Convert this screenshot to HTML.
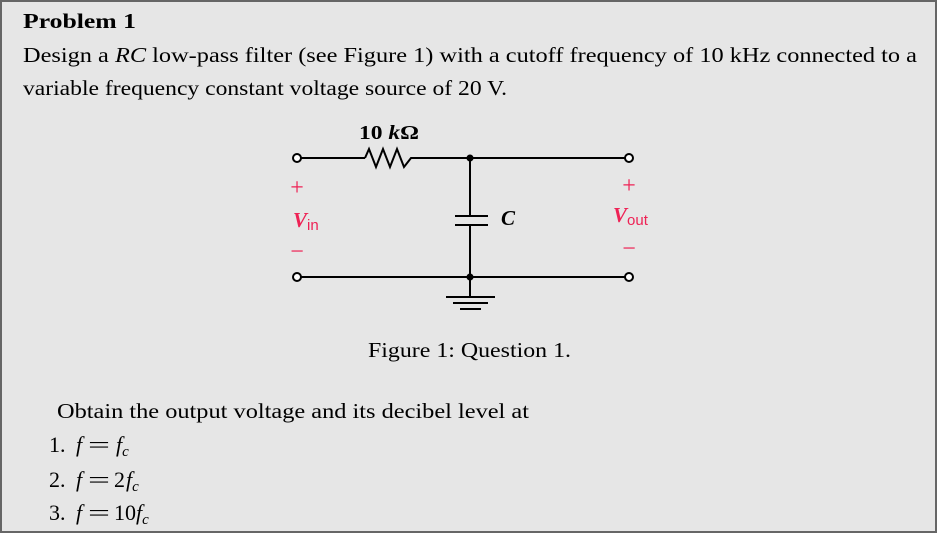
<!DOCTYPE html>
<html><head><meta charset="utf-8"><style>
html,body{margin:0;padding:0;background:#fff}
svg{display:block}
text{font-family:"Liberation Serif",serif;fill:#000}
.r{fill:#ee2255}
</style></head><body>
<svg width="938" height="534" viewBox="0 0 938 534" xmlns="http://www.w3.org/2000/svg">
<rect x="1" y="1" width="935" height="531" fill="#e6e6e6" stroke="#666" stroke-width="2"/>
<text x="23" y="28" font-size="21" font-weight="bold" textLength="113" lengthAdjust="spacingAndGlyphs">Problem 1</text>
<text x="23" y="62" font-size="21" textLength="894" lengthAdjust="spacingAndGlyphs">Design a <tspan font-style="italic">RC</tspan> low-pass filter (see Figure 1) with a cutoff frequency of 10 kHz connected to a</text>
<text x="23" y="95" font-size="21" textLength="484" lengthAdjust="spacingAndGlyphs">variable frequency constant voltage source of 20 V.</text>

<g stroke="#000" stroke-width="2" fill="none">
<line x1="301" y1="158" x2="365" y2="158"/>
<polyline points="365,158 369,149 376,167 383,149 390,167 397,149 404,167 411,158 415,158"/>
<line x1="415" y1="158" x2="625" y2="158"/>
<line x1="301" y1="277" x2="625" y2="277"/>
<line x1="470" y1="158" x2="470" y2="216"/>
<line x1="470" y1="225" x2="470" y2="296"/>
<line x1="455" y1="216" x2="488" y2="216"/>
<line x1="455" y1="225" x2="488" y2="225"/>
<line x1="446" y1="297" x2="495" y2="297"/>
<line x1="453" y1="303" x2="488" y2="303"/>
<line x1="460" y1="309" x2="481" y2="309"/>
</g>
<g fill="#fff" stroke="#000" stroke-width="2">
<circle cx="297" cy="158" r="4"/><circle cx="297" cy="277" r="4"/>
<circle cx="629" cy="158" r="4"/><circle cx="629" cy="277" r="4"/>
</g>
<circle cx="470" cy="158" r="3.5" fill="#000"/>
<circle cx="470" cy="277" r="3.5" fill="#000"/>
<text x="359" y="139" font-size="20" font-weight="bold" textLength="60" lengthAdjust="spacingAndGlyphs">10 <tspan font-style="italic">k</tspan>Ω</text>
<text x="501" y="225" font-size="21" font-style="italic" font-weight="bold">C</text>
<text class="r" x="297" y="195" font-size="24" text-anchor="middle">+</text>
<text class="r" x="293" y="227" font-size="21" font-style="italic" font-weight="bold">V<tspan font-style="normal" font-weight="normal" font-size="15" font-family="Liberation Sans" dy="3">in</tspan></text>
<text class="r" x="297" y="259" font-size="24" text-anchor="middle">−</text>
<text class="r" x="629" y="193" font-size="24" text-anchor="middle">+</text>
<text class="r" x="613" y="222" font-size="21" font-style="italic" font-weight="bold">V<tspan font-style="normal" font-weight="normal" font-size="15" font-family="Liberation Sans" dy="3">out</tspan></text>
<text class="r" x="629" y="256" font-size="24" text-anchor="middle">−</text>

<text x="368" y="357" font-size="21" textLength="203" lengthAdjust="spacingAndGlyphs">Figure 1: Question 1.</text>
<text x="57" y="418" font-size="21" textLength="472" lengthAdjust="spacingAndGlyphs">Obtain the output voltage and its decibel level at</text>
<g font-size="22">
<text x="49" y="452">1.</text><text x="76" y="452" font-style="italic">f</text><text x="88" y="452" textLength="22" lengthAdjust="spacingAndGlyphs">=</text><text x="116" y="452" font-style="italic">f<tspan font-size="15" dy="4">c</tspan></text>
<text x="49" y="487">2.</text><text x="76" y="487" font-style="italic">f</text><text x="88" y="487" textLength="22" lengthAdjust="spacingAndGlyphs">=</text><text x="114" y="487">2</text><text x="126" y="487" font-style="italic">f<tspan font-size="15" dy="4">c</tspan></text>
<text x="49" y="520">3.</text><text x="76" y="520" font-style="italic">f</text><text x="88" y="520" textLength="22" lengthAdjust="spacingAndGlyphs">=</text><text x="114" y="520">10</text><text x="136" y="520" font-style="italic">f<tspan font-size="15" dy="4">c</tspan></text>
</g>
</svg>
</body></html>
